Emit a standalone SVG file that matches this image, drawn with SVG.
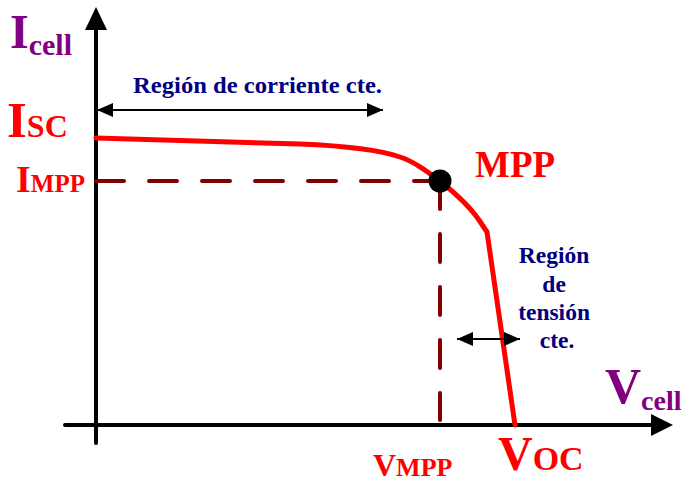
<svg xmlns="http://www.w3.org/2000/svg" width="685" height="482" viewBox="0 0 685 482">
<style>
  .t { font-family: "Liberation Serif", "Times New Roman", serif; font-weight: bold; }
  .red { fill: #FF0000; }
  .pur { fill: #800080; }
  .blue { fill: #000080; }
  .axis { stroke: #000; stroke-width: 4; fill: none; stroke-linecap: round; }
  .dash { stroke: #800000; stroke-width: 4; fill: none; stroke-linecap: round; stroke-dasharray: 28 25; }
  .thin { stroke: #000; stroke-width: 2; fill: none; }
</style>
<defs>
  <marker id="ah" markerUnits="userSpaceOnUse" markerWidth="16" markerHeight="14" refX="16" refY="7" orient="auto-start-reverse">
    <path d="M0,0 L16,7 L0,14 Z" fill="#000"/>
  </marker>
</defs>
<rect width="685" height="482" fill="#fff"/>
<g id="connectors">
  <line class="axis" x1="96" y1="443" x2="96" y2="26"/>
  <path d="M96,7 L85,30 L107,30 Z" fill="#000"/>
  <line class="axis" x1="65" y1="425" x2="655" y2="425"/>
  <path d="M673,425 L651,414 L651,436 Z" fill="#000"/>
  <line class="dash" x1="96" y1="181" x2="440" y2="181"/>
  <line class="dash" x1="440" y1="181" x2="440" y2="420"/>
  <path d="M96,138 L300,144 C350,146 380,150 400,157 C415,162 428,172 440,181 C455,193 470,207 479,220 L487,232 L515,425" fill="none" stroke="#FF0000" stroke-width="5" stroke-linejoin="round" stroke-linecap="round"/>
  <line class="thin" x1="97" y1="110" x2="383" y2="110" marker-start="url(#ah)" marker-end="url(#ah)"/>
  <line class="thin" x1="457" y1="339" x2="520" y2="339" marker-start="url(#ah)" marker-end="url(#ah)"/>
</g>
<g id="mpp-point">
  <circle cx="440" cy="181" r="11.5" fill="#000"/>
  <text class="t red" x="475" y="177" font-size="37">MPP</text>
</g>
<g id="label-icell">
  <text class="t pur" x="10" y="48" font-size="48">I<tspan font-size="30" dy="7">cell</tspan></text>
</g>
<g id="label-isc">
  <text class="t red" x="7" y="137" font-size="51">I<tspan font-size="32">SC</tspan></text>
</g>
<g id="label-impp">
  <text class="t red" x="16" y="192" font-size="38">I<tspan font-size="25">MPP</tspan></text>
</g>
<g id="label-vcell">
  <text class="t pur" x="605" y="403" font-size="50">V<tspan font-size="28" dy="7">cell</tspan></text>
</g>
<g id="label-vmpp">
  <text class="t red" x="373" y="476" font-size="32">V<tspan font-size="26">MPP</tspan></text>
</g>
<g id="label-voc">
  <text class="t red" x="498" y="470" font-size="48">V<tspan font-size="34">OC</tspan></text>
</g>
<g id="region-current">
  <text class="t blue" x="133" y="93" font-size="23" textLength="249" lengthAdjust="spacingAndGlyphs">Región de corriente cte.</text>
</g>
<g id="region-voltage">
  <text class="t blue" font-size="23.5" text-anchor="middle">
    <tspan x="557" y="263">Región</tspan>
    <tspan x="557" y="292">de</tspan>
    <tspan x="557" y="320">tensión</tspan>
    <tspan x="557" y="348">cte.</tspan>
  </text>
</g>
</svg>
